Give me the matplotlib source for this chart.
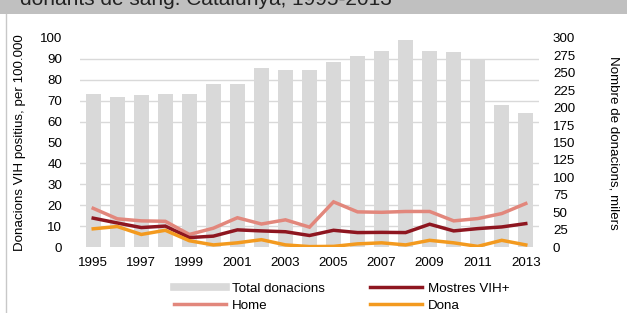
import numpy as np
import matplotlib
matplotlib.use("Agg")
import matplotlib.pyplot as plt
from matplotlib.patches import Rectangle
from matplotlib.lines import Line2D

plt.rcParams["font.family"] = ["Liberation Sans", "DejaVu Sans"]
plt.rcParams["font.size"] = 9.6

# data
years = list(range(1995, 2014))
total_donacions = [219, 216, 217.5, 219, 220, 234, 233.5, 256.5, 253.5, 254,
                   265, 274.5, 281.5, 297.5, 281, 280, 270, 204, 193]  # milers
home = [18.5, 13.5, 12.5, 12.3, 6, 9, 14, 11, 13, 9.5,
        21.6, 16.8, 16.6, 17, 17, 12.5, 13.6, 16, 20.8]
mostres = [13.8, 11.5, 9.3, 10, 4.5, 5.2, 8.2, 7.7, 7.3, 5.5,
           8, 6.9, 7, 6.9, 10.9, 7.7, 8.8, 9.6, 11.2]
dona = [8.7, 9.8, 6, 8, 3, 1, 2, 3.5, 1, 0.2,
        0.3, 1.5, 2, 1, 3.2, 2, 0.3, 3.2, 1]
xtick_years = list(range(1995, 2014, 2))

BAR = "#d9d9d9"
HOME = "#e2877c"
MOSTRES = "#8e1620"
DONA = "#f39a1f"
GRID = "#d9d9d9"

W, H = 627, 313
fig = plt.figure(figsize=(W / 100, H / 100), dpi=100)

# grey title band (title mostly cut off at the top, as in the source)
fig.patches.append(Rectangle((0, 1 - 13.5 / H), 1, 13.5 / H, transform=fig.transFigure,
                             facecolor="#c0c0c0", edgecolor="none", zorder=0))
fig.text(20 / W, 1 - 5 / H, "donants de sang. Catalunya, 1995-2013", fontsize=15,
         va="baseline", ha="left", color="#222222")
fig.add_artist(Line2D([6 / W, 6 / W], [0, 1 - 13.5 / H], transform=fig.transFigure,
                      color="#c8c8c8", lw=1))

ax = fig.add_axes([80 / W, 1 - 247 / H, 459 / W, 209 / H])
ax2 = ax.twinx()
ax.set_zorder(ax2.get_zorder() + 1)
ax.patch.set_visible(False)

# bars on the right scale, behind lines
ax2.bar(years, total_donacions, width=0.64, color=BAR, zorder=2)
ax2.set_ylim(0, 300)
ax2.set_yticks(np.arange(0, 301, 25))
ax2.set_yticks(np.arange(0, 301, 30), minor=True)
ax2.grid(which="minor", axis="y", color=GRID, lw=1, zorder=0)
ax2.set_axisbelow(True)
ax2.tick_params(which="both", length=0, pad=10)
ax2.set_ylabel("Nombre de donacions, milers", rotation=-90, labelpad=32)

# lines on the left scale
ax.plot(years, home, color=HOME, lw=2.5, solid_joinstyle="miter")
ax.plot(years, mostres, color=MOSTRES, lw=2.5, solid_joinstyle="miter")
ax.plot(years, dona, color=DONA, lw=2.5, solid_joinstyle="miter")
ax.set_ylim(0, 100)
ax.set_yticks(np.arange(0, 101, 10))
ax.set_xlim(years[0] - 0.55, years[-1] + 0.55)
ax.set_xticks(xtick_years)
ax.tick_params(length=0, pad=7)
ax.tick_params(axis="y", pad=13)
ax.set_ylabel("Donacions VIH positius, per 100.000", labelpad=10)

for a in (ax, ax2):
    for s in a.spines.values():
        s.set_visible(False)

handles = [
    Line2D([], [], color=BAR, lw=5.5),
    Line2D([], [], color=HOME, lw=2.5),
    Line2D([], [], color=MOSTRES, lw=2.5),
    Line2D([], [], color=DONA, lw=2.5),
]
labels = ["Total donacions", "Home", "Mostres VIH+", "Dona"]
fig.legend(handles, labels, ncol=2, loc="upper center",
           bbox_to_anchor=(0.5 + 28 / W, 1 - 276 / H),
           frameon=False, handlelength=3.9, handletextpad=0.45, columnspacing=3.4,
           labelspacing=0.35, borderpad=0)

fig.savefig("out.png", dpi=100)
